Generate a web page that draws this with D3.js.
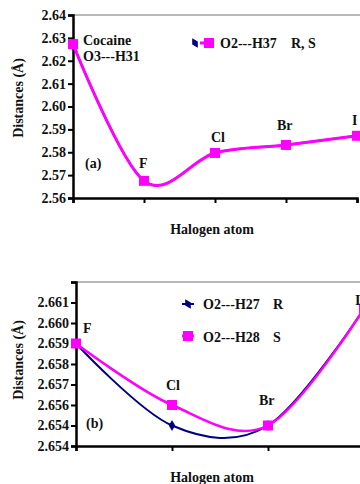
<!DOCTYPE html>
<html>
<head>
<meta charset="utf-8">
<script src="https://cdn.jsdelivr.net/npm/d3@7"></script>
<style>
  body { margin: 0; background: #fff; }
  svg text { font-family: "Liberation Serif", serif; font-weight: bold; font-size: 14px; fill: #111; }
</style>
</head>
<body>
<svg></svg>
<script>
// chart (a)
const catsA = ["Cocaine", "F", "Cl", "Br", "I"];
const h37 = [2.6273, 2.5675, 2.5797, 2.5832, 2.5872];
const ticksA = [2.56, 2.57, 2.58, 2.59, 2.60, 2.61, 2.62, 2.63, 2.64];

// chart (b)
const catsB = ["F", "Cl", "Br", "I"];
const h27 = [2.659, 2.655, 2.655, 2.6607];
const h28 = [2.659, 2.656, 2.655, 2.6607];
const ticksB = [2.654, 2.655, 2.656, 2.657, 2.658, 2.659, 2.660, 2.661, 2.662];
const tickLabelsB = ["2.654", "2.654", "2.656", "2.657", "2.658", "2.659", "2.660", "2.661", ""];

const pink = "#ff00ff";
const navy = "#000080";

const svg = d3.select("svg").attr("width", 360).attr("height", 484)
  .attr("font-family", "Liberation Serif");
svg.append("rect").attr("width", 360).attr("height", 484).attr("fill", "#fff");

// smoothed line like excel
const line = (x, y) =>
  d3.line()
    .x((d, i) => x(i))
    .y(d => y(d))
    .curve(d3.curveCardinal.tension(0));

function drawAxes(g, x, y, tickVals, fmt, n) {
  const [x0, x1] = x.range();
  const [y0, y1] = y.range();
  // top border
  g.append("line")
    .attr("x1", x0).attr("x2", 362)
    .attr("y1", y1).attr("y2", y1)
    .attr("stroke", "#a0a0a0").attr("stroke-width", 1.5);

  const yAxis = d3.axisLeft(y).tickValues(tickVals).tickFormat(fmt).tickSize(5).tickPadding(2);
  const ya = g.append("g").attr("transform", `translate(${x0},0)`).call(yAxis)
    .attr("font-family", "Liberation Serif").attr("font-size", 14);
  ya.select(".domain").attr("stroke", "#000").attr("stroke-width", 2.5);
  ya.selectAll(".tick line").attr("stroke", "#000").attr("stroke-width", 2);

  const xs = d3.scaleLinear().domain([0, n - 1]).range([x0, x1]);
  const xAxis = d3.axisBottom(xs).tickValues(d3.range(n)).tickFormat("").tickSize(5);
  const xa = g.append("g").attr("transform", `translate(0,${y0})`).call(xAxis);
  xa.select(".domain").attr("stroke", "#000").attr("stroke-width", 2.5);
  xa.selectAll(".tick line").attr("stroke", "#000").attr("stroke-width", 2);
}

function squares(g, data, x, y) {
  g.selectAll(null).data(data).enter().append("rect")
    .attr("x", (d, i) => x(i) - 5)
    .attr("y", d => y(d) - 5)
    .attr("width", 10).attr("height", 10)
    .attr("fill", pink);
}

function diamonds(g, data, x, y) {
  g.selectAll(null).data(data).enter().append("path")
    .attr("d", d3.symbol(d3.symbolDiamond, 36))
    .attr("transform", (d, i) => `translate(${x(i)},${y(d)})`)
    .attr("fill", navy);
}

// ---------- (a)
const xA = d3.scaleLinear().domain([0, catsA.length - 1]).range([73, 357]);
const yA = d3.scaleLinear().domain([2.56, 2.64]).range([198, 15]);
const gA = svg.append("g");
drawAxes(gA, xA, yA, ticksA, d => d.toFixed(2), catsA.length);

gA.append("path").datum(h37).attr("d", line(xA, yA))
  .attr("fill", "none").attr("stroke", navy).attr("stroke-width", 2);
gA.append("path").datum(h37).attr("d", line(xA, yA))
  .attr("fill", "none").attr("stroke", pink).attr("stroke-width", 3);
squares(gA, h37, xA, yA);

const labA = [
  { t: "F", dx: -5, y: 168 },
  { t: "Cl", dx: -4, y: 142 },
  { t: "Br", dx: -9, y: 130 },
  { t: "I", dx: -5, y: 125 }
];
gA.selectAll(null).data(labA).enter().append("text")
  .attr("x", (d, i) => xA(i + 1) + d.dx)
  .attr("y", d => d.y)
  .text(d => d.t);
gA.append("text").attr("x", 83).attr("y", 45).text("Cocaine");
gA.append("text").attr("x", 83).attr("y", 61).text("O3---H31");
gA.append("text").attr("x", 85).attr("y", 168).text("(a)");

// legend (a)
gA.append("line").attr("x1", 200).attr("x2", 214).attr("y1", 43).attr("y2", 43)
  .attr("stroke", pink).attr("stroke-width", 3);
gA.append("path").attr("d", d3.symbol(d3.symbolDiamond, 36))
  .attr("transform", "translate(195,43) rotate(-30)").attr("fill", navy);
gA.append("rect").attr("x", 204).attr("y", 38).attr("width", 10).attr("height", 10).attr("fill", pink);
gA.append("text").attr("x", 220).attr("y", 48).text("O2---H37");
gA.append("text").attr("x", 291).attr("y", 48).text("R, S");

gA.append("text")
  .attr("transform", "translate(23,98) rotate(-90)")
  .attr("text-anchor", "middle")
  .text("Distances (Å)");
gA.append("text").attr("x", 212).attr("y", 234).attr("text-anchor", "middle").text("Halogen atom");

// ---------- (b)
const xB = d3.scaleLinear().domain([0, catsB.length - 1]).range([76, 364]);
const yB = d3.scaleLinear().domain([2.654, 2.662]).range([446, 282]);
const gB = svg.append("g");
drawAxes(gB, xB, yB, ticksB, (d, i) => tickLabelsB[i], catsB.length);

gB.append("path").datum(h27).attr("d", line(xB, yB))
  .attr("fill", "none").attr("stroke", navy).attr("stroke-width", 2);
gB.append("path").datum(h28).attr("d", line(xB, yB))
  .attr("fill", "none").attr("stroke", pink).attr("stroke-width", 2.5);
diamonds(gB, h27, xB, yB);
squares(gB, h28, xB, yB);

const labB = [
  { t: "F", dx: 7, y: 333 },
  { t: "Cl", dx: -6, y: 390 },
  { t: "Br", dx: -9, y: 405 },
  { t: "I", dx: -9, y: 305 }
];
gB.selectAll(null).data(labB).enter().append("text")
  .attr("x", (d, i) => xB(i) + d.dx)
  .attr("y", d => d.y)
  .text(d => d.t);
gB.append("text").attr("x", 86).attr("y", 428).text("(b)");

// legend (b)
gB.append("line").attr("x1", 182).attr("x2", 194).attr("y1", 304).attr("y2", 304)
  .attr("stroke", navy).attr("stroke-width", 2);
gB.append("path").attr("d", d3.symbol(d3.symbolDiamond, 36))
  .attr("transform", "translate(188,304) rotate(-30)").attr("fill", navy);
gB.append("text").attr("x", 203).attr("y", 309).text("O2---H27");
gB.append("text").attr("x", 273).attr("y", 309).text("R");
gB.append("line").attr("x1", 182).attr("x2", 194).attr("y1", 336).attr("y2", 336)
  .attr("stroke", pink).attr("stroke-width", 3);
gB.append("rect").attr("x", 183).attr("y", 331).attr("width", 10).attr("height", 10).attr("fill", pink);
gB.append("text").attr("x", 203).attr("y", 342).text("O2---H28");
gB.append("text").attr("x", 273).attr("y", 342).text("S");

gB.append("text")
  .attr("transform", "translate(23,360) rotate(-90)")
  .attr("text-anchor", "middle")
  .text("Distances (Å)");
gB.append("text").attr("x", 212).attr("y", 482).attr("text-anchor", "middle").text("Halogen atom");
</script>
</body>
</html>
